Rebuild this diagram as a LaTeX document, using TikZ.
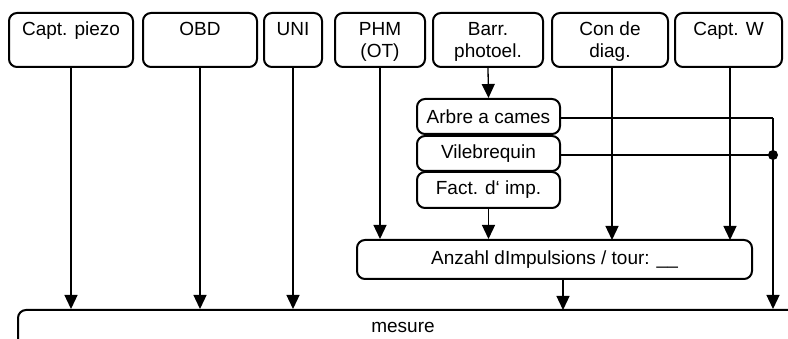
\documentclass[tikz,border=0pt]{standalone}
\usepackage{fontspec}
\setmainfont{Liberation Sans}
\usetikzlibrary{arrows.meta}
\begin{document}
\begin{tikzpicture}[x=1pt,y=-1pt,
  box/.style={draw,line width=2pt,rounded corners=8pt,inner sep=0pt},
  lbl/.style={inner sep=0pt,align=center,font=\fontsize{19}{22}\selectfont},
  conn/.style={line width=1.3pt},
  arr/.style={conn,-{Triangle[length=14pt,width=13pt]}}]
\useasboundingbox (0,0) rectangle (788,339);
\clip (0,0) rectangle (788,339);

% input sources along the top
\newcommand{\topbox}[4]{%
  \node[box,minimum width=#3,minimum height=54] (#1) at (#2,40) {};
  \node[lbl,anchor=north] (#1t) at (#2,22) {#4};}
\topbox{piezo}{71}{124}{Capt. piezo}
\topbox{obd}{200}{114}{OBD}
\topbox{uni}{293}{58}{UNI}
\topbox{phm}{380}{90}{PHM\\(OT)}
\topbox{barr}{488}{110}{Barr.\\photoel.}
\topbox{diag}{610}{116}{Con de\\diag.}
\topbox{captw}{728.5}{107}{Capt. W}

% signal source stack
\node[box,lbl,minimum width=143,minimum height=35] (arbre) at (488.5,116.5) {Arbre a cames};
\node[box,lbl,minimum width=143,minimum height=35] (vile) at (488.5,153.5) {Vilebrequin};
\node[box,lbl,minimum width=143,minimum height=36] (fact) at (488.5,190) {Fact. d‘ imp.};

% pulse count and measurement
\node[box,lbl,minimum width=395,minimum height=39] (anzahl) at (554.5,259.5) {Anzahl dImpulsions / tour: \_\_};
\node[box,minimum width=782,minimum height=70] (mesure) at (409,345) {};
\node[lbl] (mesuret) at (403,327) {mesure};

\coordinate (c1) at (773,118);
\coordinate (c2) at (773,155);

% connectors
\draw[arr] (piezo.south) -- (piezo.south |- mesure.north);
\draw[arr] (obd.south) -- (obd.south |- mesure.north);
\draw[arr] (uni.south) -- (uni.south |- mesure.north);
\draw[arr] (phm.south) -- (phm.south |- anzahl.north);
\draw[arr] (barr.south) -- (arbre.north);
\draw[arr] (fact.south) -- (fact.south |- anzahl.north);
\draw[arr] (612,67) -- (612,240);
\draw[arr] (730,67) -- (730,240);
\draw[arr] (anzahl.south -| 563,0) -- (563,310);
\draw[conn] (arbre.east |- c1) -- (c1);
\draw[arr] (c1) -- (c1 |- mesure.north);
\draw[conn] (vile.east |- c2) -- (c2);
\fill (c2) circle (5pt);
\end{tikzpicture}
\end{document}
